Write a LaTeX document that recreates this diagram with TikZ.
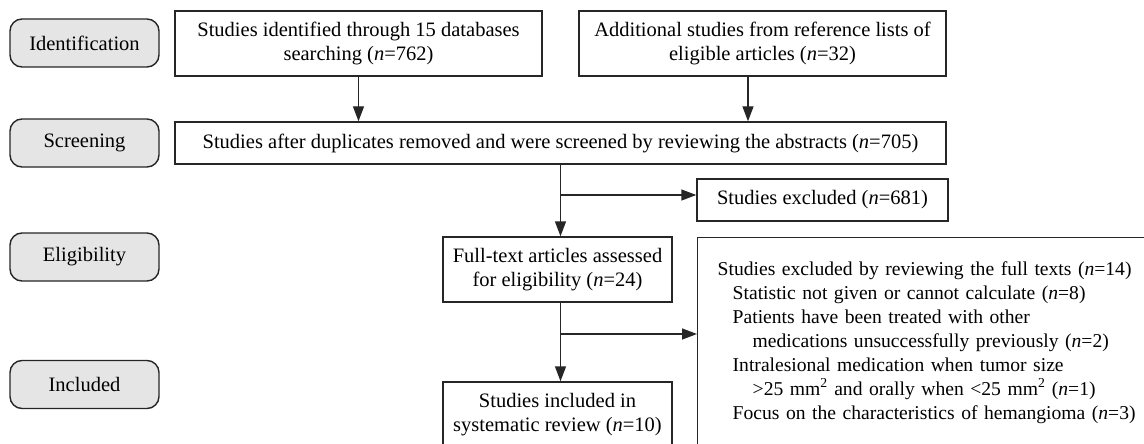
\documentclass[tikz,border=0pt]{standalone}
\usepackage{fontspec}
\setmainfont{Liberation Serif}
\usetikzlibrary{arrows.meta}

\begin{document}
\begin{tikzpicture}[x=1pt,y=-1pt,
  font=\fontsize{20.5}{24}\selectfont,
  stage/.style={draw=black!85,line width=1.4pt,rounded corners=12pt,fill=black!10,
    minimum width=149pt,minimum height=48pt,inner sep=0pt},
  box/.style={draw=black!85,line width=1.4pt,align=center,inner sep=0pt},
  flow/.style={draw=black!85,line width=1.4pt,-{Triangle[length=15pt,width=11pt]}}]
  \useasboundingbox (0,0) rectangle (1144,444);
  \clip (0,0) rectangle (1144,444);
  % Stages
  \node[stage] (ident) at (84.5,43) {Identification};
  \node[stage] (screen) at (84.5,143) {Screening};
  \node[stage] (elig) at (84.5,257) {Eligibility};
  \node[stage] (incl) at (84.5,384.5) {Included};
  % Identification
  \node[box,minimum width=367pt,minimum height=65pt] (found) at (358.5,43.5)
    {Studies identified through 15 databases\\searching (\textit{n}=762)};
  \node[box,minimum width=367pt,minimum height=65pt] (extra) at (762.5,43.5)
    {Additional studies from reference lists of\\eligible articles (\textit{n}=32)};
  % Screening
  \node[box,minimum width=771pt,minimum height=42pt] (scr) at (560.5,143)
    {Studies after duplicates removed and were screened by reviewing the abstracts (\textit{n}=705)};
  \node[box,minimum width=251pt,minimum height=42pt] (excl) at (822.5,200)
    {Studies excluded (\textit{n}=681)};
  % Eligibility
  \node[box,minimum width=229pt,minimum height=65pt] (full) at (557.5,269.5)
    {Full-text articles assessed\\for eligibility (\textit{n}=24)};
  \node[box,anchor=north west,align=left,text width=440pt,inner xsep=20pt,
    minimum height=210pt,font=\fontsize{19.6}{24}\selectfont] (ftx) at (697,237)
    {Studies excluded by reviewing the full texts (\textit{n}=14)\\
     \hspace*{15pt}Statistic not given or cannot calculate (\textit{n}=8)\\
     \hspace*{15pt}Patients have been treated with other\\
     \hspace*{35pt}medications unsuccessfully previously (\textit{n}=2)\\
     \hspace*{15pt}Intralesional medication when tumor size\\
     \hspace*{35pt}>25 mm\textsuperscript{2} and orally when <25 mm\textsuperscript{2} (\textit{n}=1)\\
     \hspace*{15pt}Focus on the characteristics of hemangioma (\textit{n}=3)};
  % Included
  \node[box,minimum width=229pt,minimum height=65pt] (done) at (557.5,414.5)
    {Studies included in\\systematic review (\textit{n}=10)};
  % Arrows
  \draw[flow] (found.south) -- (found.south |- scr.north);
  \draw[flow] ([xshift=-14.5pt]extra.south) -- ([xshift=-14.5pt]extra.south |- scr.north);
  \draw[flow] (scr.south) -- (scr.south |- full.north);
  \coordinate (b1) at (560.5,195);
  \draw[flow] (b1) -- (b1 -| excl.west);
  \draw[flow] (scr.south |- full.south) -- (scr.south |- done.north);
  \coordinate (b2) at (560.5,334);
  \draw[flow] (b2) -- (b2 -| ftx.west);
\end{tikzpicture}
\end{document}
